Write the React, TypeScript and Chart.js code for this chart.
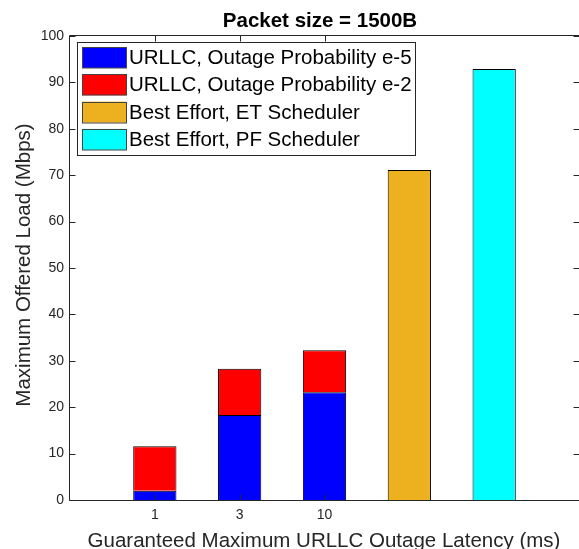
import React, { useEffect, useRef } from 'react';
import { Chart, registerables } from 'chart.js';

Chart.register(...registerables);

// ---------- data ----------
const chartTitle = 'Packet size = 1500B';
const xAxisTitle = 'Guaranteed Maximum URLLC Outage Latency (ms)';
const yAxisTitle = 'Maximum Offered Load (Mbps)';

const seriesNames = [
  'URLLC, Outage Probability e-5',
  'URLLC, Outage Probability e-2',
  'Best Effort, ET Scheduler',
  'Best Effort, PF Scheduler',
];
const seriesColors = ['#0000FF', '#FF0000', '#EDB120', '#00FFFF'];

const tickLabels = ['1', '3', '10'];
const urllcPositions = [1, 2, 3];
const urllcE5 = [2.0, 18.3, 23.2];
const urllcE2Extra = [9.6, 10.0, 9.1]; // stacked on top of e-5
const etPositions = [4];
const bestEffortET = [71.1];
const pfPositions = [5];
const bestEffortPF = [92.9];

const xMin = 0;
const xMax = 6;
const yMin = 0;
const yMax = 100;
const yStep = 10;

// ---------- style ----------
const FONT = '"Liberation Sans", Arial, Helvetica, sans-serif';
const AXIS = '#262626';

const matlabPlugin = {
  id: 'matlabAxes',
  afterDraw(chart: any) {
    const { ctx, chartArea: a, scales } = chart;
    const xs = scales.x;
    const ys = scales.y;
    ctx.save();
    ctx.strokeStyle = AXIS;
    ctx.lineWidth = 1;
    const L = a.left - 0.5;
    const R = a.right + 0.5;
    const T = a.top - 0.5;
    const B = a.bottom + 0.5;
    ctx.beginPath();
    ctx.moveTo(L, T);
    ctx.lineTo(R, T);
    ctx.lineTo(R, B);
    ctx.lineTo(L, B);
    ctx.closePath();
    ctx.stroke();

    // y ticks (inward, both sides)
    ctx.beginPath();
    for (let v = yMin; v <= yMax; v += yStep) {
      const py = Math.round(ys.getPixelForValue(v)) + 0.5;
      ctx.moveTo(L, py);
      ctx.lineTo(L + 6, py);
      ctx.moveTo(R, py);
      ctx.lineTo(R - 6, py);
    }
    // x ticks (inward, top and bottom)
    for (const p of urllcPositions) {
      const px = Math.round(xs.getPixelForValue(p)) + 0.5;
      ctx.moveTo(px, B);
      ctx.lineTo(px, B - 6);
      ctx.moveTo(px, T);
      ctx.lineTo(px, T + 6);
    }
    ctx.stroke();

    // title
    ctx.fillStyle = '#000';
    ctx.font = `bold 20.5px ${FONT}`;
    ctx.textAlign = 'center';
    ctx.textBaseline = 'alphabetic';
    ctx.fillText(chartTitle, 320, 26.5);

    // x axis title
    ctx.fillStyle = AXIS;
    ctx.font = `20.5px ${FONT}`;
    ctx.fillText(xAxisTitle, 324, 546.5);

    // y axis title
    ctx.save();
    ctx.translate(30, 265);
    ctx.rotate(-Math.PI / 2);
    ctx.fillText(yAxisTitle, 0, 0);
    ctx.restore();

    // legend
    const bx = 77.5, by = 42.5, bw = 338, bh = 113;
    ctx.fillStyle = '#fff';
    ctx.fillRect(bx, by, bw, bh);
    ctx.strokeStyle = AXIS;
    ctx.strokeRect(bx, by, bw, bh);
    ctx.font = `20.5px ${FONT}`;
    ctx.textAlign = 'left';
    ctx.textBaseline = 'middle';
    chart.data.datasets.forEach((ds: any, i: number) => {
      const top = 47 + i * 27.3;
      ctx.fillStyle = ds.backgroundColor;
      ctx.fillRect(82, top, 44.5, 21);
      ctx.strokeStyle = '#444';
      ctx.strokeRect(82.5, Math.round(top) + 0.5, 44, 20.5);
      ctx.fillStyle = '#000';
      ctx.fillText(ds.label, 129, top + 11.5);
    });
    ctx.restore();
  },
};

export default function App() {
  const canvasRef = useRef<HTMLCanvasElement | null>(null);

  useEffect(() => {
    document.body.style.margin = '0';
    const canvas = canvasRef.current;
    if (!canvas) return;

    const toPoints = (xs: number[], vals: number[]) => xs.map((x, i) => ({ x, y: vals[i] }));

    const common = {
      borderColor: '#000',
      borderWidth: 1,
      grouped: false,
      categoryPercentage: 1,
      barPercentage: 0.51,
    };

    const chart = new Chart(canvas, {
      type: 'bar',
      data: {
        datasets: [
          { ...common, label: seriesNames[0], backgroundColor: seriesColors[0], data: toPoints(urllcPositions, urllcE5) },
          { ...common, label: seriesNames[1], backgroundColor: seriesColors[1], data: toPoints(urllcPositions, urllcE2Extra) },
          { ...common, label: seriesNames[2], backgroundColor: seriesColors[2], data: toPoints(etPositions, bestEffortET) },
          { ...common, label: seriesNames[3], backgroundColor: seriesColors[3], data: toPoints(pfPositions, bestEffortPF) },
        ],
      },
      options: {
        responsive: false,
        animation: false,
        layout: { padding: { top: 36, left: 0, right: 0, bottom: 0 } },
        plugins: {
          legend: { display: false },
          title: { display: false },
          tooltip: { enabled: false },
        },
        scales: {
          x: {
            type: 'linear',
            min: xMin,
            max: xMax,
            offset: false,
            stacked: true,
            grid: { display: false, drawTicks: false, offset: false },
            border: { display: false },
            afterBuildTicks: (scale: any) => {
              scale.ticks = urllcPositions.map((v) => ({ value: v }));
            },
            afterFit: (scale: any) => {
              scale.height = 49;
            },
            ticks: {
              autoSkip: false,
              maxRotation: 0,
              padding: 7,
              color: AXIS,
              font: { family: FONT, size: 14 },
              callback: (value: any) => tickLabels[urllcPositions.indexOf(Number(value))] ?? '',
            },
          },
          y: {
            type: 'linear',
            min: yMin,
            max: yMax,
            stacked: true,
            grid: { display: false, drawTicks: false },
            border: { display: false },
            afterFit: (scale: any) => {
              scale.width = 70;
            },
            ticks: {
              stepSize: yStep,
              padding: 6,
              color: AXIS,
              font: { family: FONT, size: 14 },
            },
          },
        },
      } as any,
      plugins: [matlabPlugin],
    });

    return () => chart.destroy();
  }, []);

  return (
    <div style={{ width: 579, height: 549 }}>
      <canvas ref={canvasRef} width={579} height={549} style={{ display: 'block' }} />
    </div>
  );
}
